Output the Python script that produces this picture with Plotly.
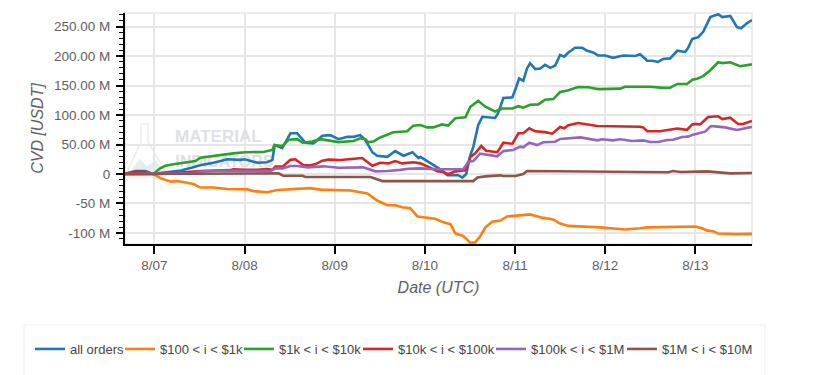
import pandas as pd
import plotly.graph_objects as go

BASE = pd.Timestamp("2021-08-07")

series_names = ["all orders", "$100 < i < $1k", "$1k < i < $10k", "$10k < i < $100k", "$100k < i < $1M", "$1M < i < $10M"]
series_colors = ["#1f77b4", "#ff7f0e", "#2ca02c", "#d62728", "#9467bd", "#8c564b"]

# hours since 8/07 00:00 UTC, and CVD in millions of USDT
all_h = [-8,-5,-2.4,-0.5,3,7,9.6,12.2,15.7,19.4,22.9,24,27.4,30,31.4,32,34,36.2,38,40.2,42.3,44.7,46.8,49,51.4,53,54.8,56.1,58,59.3,62,64.1,66.3,68.7,70.3,70.8,72.6,74.2,76.1,78,80.9,82,83,84.1,84.9,86.2,87.3,90.7,91.5,92.9,95.3,96,97.1,98.2,99.2,100,101.4,102.7,104,105.4,106.7,108,109.1,110.2,112,113.9,115.2,116.8,118.1,120,122.1,124.8,128,129.3,131.2,132.5,134.1,135.4,137.3,139.2,141.3,142.1,143.2,144.8,146.1,148,150.1,151.2,153.3,155.1,156.2,157.8,159.1]
all_v = [0,5,5,0,3,6,10,15,19,25,24,25,19,20,24,49,44,69,69,53,52,65,66,59,63,63,66,58,37,31,29,39,31,37,27,29,22,15,8,-2,-2,-6,0,32,46,83,97,95,103,129,130,142,162,158,179,188,178,179,185,180,184,202,199,206,214,214,209,206,201,201,197,201,200,203,192,192,190,195,196,209,207,214,229,232,241,266,271,266,268,249,247,256,261]

s1_h = [-8,-0.3,1.6,4.3,6.1,10.4,12.2,15.7,19.4,24.7,26.3,30,32.7,36.2,41.5,44.2,52.2,56.7,58,59.3,62,64.1,66,68.1,70,72.1,74.8,76.9,78.8,80.1,82.2,84.1,85.4,86.7,88.1,89.9,92.1,93.9,96.6,100,103.2,106.2,108,110.2,118.7,125.3,129.3,131.2,144,145.8,147.2,148.8,150.1,155.1,159.1]
s1_v = [0,0,-7,-13,-12,-17,-23,-23,-25.5,-26,-29,-31,-27,-25.5,-24,-26.5,-28,-33,-38.5,-45,-53,-53,-56.5,-58,-72,-74,-76,-82,-85,-100.6,-105,-116.5,-116,-106,-90.5,-81,-79,-72,-71,-68.5,-74,-77,-84,-88,-90.5,-94,-92,-90.5,-89,-92,-96,-97,-101,-102,-101.5]

s2_h = [-8,-0.3,1.6,2.9,5.1,10.9,12.2,16.8,21,24.2,29,31.4,31.9,34.1,35.7,38.1,39.4,42,44.2,49,53,54.8,56.1,56.9,58.3,60.1,63.6,67.3,68.9,70.8,72.6,74.2,76.6,78.2,80.1,82.8,84.1,86.2,88.1,90.7,92.6,95.3,96.9,98.2,100,102.2,104,106.2,108,110.2,112.8,115.5,118.1,124,125.3,132,135.4,137.3,139.2,141.8,143.2,144.5,146.1,148,150.1,151.2,153.3,155.9,159.1]
s2_v = [0,0,10,14,16.5,22,27.6,32,35,37,37.3,40.7,49,47.5,58,59,53,55,59,54,56,60.5,59,54,55,62,70.7,72.4,82,83,79,79,84,82,94.5,96,114,124,114,106,111,111,115,112.5,117.5,118,126,127,139,142,147.5,147,144,144.7,148,148,146,146.4,152.7,152.7,160,161.6,166,176,189.5,188,189.5,182.7,186]

s3_h = [-8,-5,-2.4,-0.3,4.3,9.6,12.2,20.2,21,24,27.4,30,31.4,32.2,34.1,36.2,37.5,39.6,41.5,42.8,44.7,46.3,49.5,55.3,58,60.1,62.3,64.1,66,68.9,70.8,73.4,75.3,76.9,78.2,80.1,82.8,84.1,85.4,87,88.3,91.3,92.9,95.3,96.9,98.2,99.8,101.4,104,105.9,108,109.1,110.2,112.8,117.9,129.3,130.1,131.2,134.6,139.2,141.8,143.2,144,145.3,147.4,150.1,151.2,153.3,155.4,156.7,159.1]
s3_v = [0,4,3.5,0,1,3,5,6.5,8,7,7,8.5,7,12.5,12.5,24,25,15,14.7,16.4,22.6,24.3,23.7,27,14,19,18,22,18,20,18,10.7,4.5,3.4,-0.5,4.5,6.3,29,35,47.5,39.5,37,53,51.4,69,69,77.5,72.4,71,68.4,79.7,77.5,82.6,86.5,81.4,80,79,72.4,72.4,77,75,84,85,84,96.7,97.8,93,95.5,84.8,84.8,90]

s4_h = [-8,9.6,12.2,16.8,23.7,30.9,32.2,34.1,36.2,38.1,40.7,45,49,55.6,58.8,62,65.5,67.6,70.8,75.3,82.2,83.6,84.9,86.7,91.3,92.9,95.5,97.4,98.2,99.8,101.9,103.5,106.7,108,113.4,117.9,119.2,122.1,124,127.2,130.1,132,134.1,136.5,138.1,140.5,142.1,143.4,146.6,148.2,149.3,151.9,155.1,157.3,159.1]
s4_v = [0,1,4,5.6,5,5,9.6,9.6,13.5,13.5,11.3,13,10.7,11.3,4.5,5,7,9,9.6,8,8,21,22,34.5,30,39,40.7,46.3,45.2,53,49,53.8,54.8,59.4,62,57,59,57,59,56,57,54.3,54.3,57.7,58,62.7,63.3,66.7,71.8,81.4,80.8,79,74.6,77,80]

s5_h = [-8,31.7,33,34.3,39.4,40.2,57.5,60.7,84.9,86,88.1,92.1,92.9,96.1,98.2,99.2,118.1,131.2,136.8,138.1,140,147.2,153.3,159.1]
s5_v = [0,1,1,-3,-3,-5,-5,-12,-12,-6,-4,-2.3,-3.4,-3.4,0,5,4.5,3,3,5,3.4,4.5,1,1.7]

series_hours = [all_h, s1_h, s2_h, s3_h, s4_h, s5_h]
series_values = [all_v, s1_v, s2_v, s3_v, s4_v, s5_v]
legend_widths = [45, 74, 74, 88, 86, 100]

y_ticks = [-100, -50, 0, 50, 100, 150, 200, 250]
y_labels = ["-100 M", "-50 M", "0", "50.00 M", "100.00 M", "150.00 M", "200.00 M", "250.00 M"]


def to_dates(hours):
    return BASE + pd.to_timedelta(hours, unit="h")


# the page body adds an 8px margin around the figure
PAGE = 8
W, H = 832, 367
# plot area in page pixels
L, R, T, B = 125, 752, 13, 244


def px(x):
    return (x - L) / (R - L)


def py(y):
    return (B - y) / (B - T)


def path(points, close=True):
    s = "M " + " L ".join(f"{px(x):.4f},{py(y):.4f}" for x, y in points)
    return s + (" Z" if close else "")


fig = go.Figure()

# watermark text, drawn first so the lines sit on top of it
fig.add_trace(go.Scatter(
    x=to_dates([17.0, 18.6]), y=[61, 18], mode="text", text=["MATERIAL", "INDICATORS"],
    textposition="middle center", showlegend=False, hoverinfo="skip",
    textfont=dict(family="Liberation Sans", size=[17, 16], color="#dde0e4", weight="bold"),
))

for name, color, h, v, lw in zip(series_names, series_colors, series_hours, series_values, legend_widths):
    fig.add_trace(go.Scatter(x=to_dates(h), y=v, mode="lines", name=name, legendwidth=lw,
                             line=dict(color=color, width=2.6, shape="linear")))

shapes = [
    # frame of the plot area (top and right sides show)
    dict(type="rect", xref="paper", yref="paper", x0=0, x1=1, y0=0, y1=1,
         line=dict(color="#ececec", width=2), layer="below"),
    # legend box
    dict(type="rect", xref="paper", yref="paper", x0=px(24), x1=px(765), y0=py(325), y1=py(385),
         line=dict(color="#f0f0f0", width=1), fillcolor="white", layer="below"),
    # watermark flask
    dict(type="path", xref="paper", yref="paper", layer="below", line=dict(color="#ececec", width=1.5),
         path=path([(141, 124), (148, 124), (148, 142), (167, 174), (164, 177), (128, 177), (126, 174), (141, 142)])),
    dict(type="path", xref="paper", yref="paper", layer="below", line=dict(width=0), fillcolor="#e4eeee",
         path=path([(128, 174), (140, 159), (147, 166), (156, 160), (165, 174), (163, 176), (130, 176)])),
]

fig.update_layout(
    width=W, height=H, autosize=False,
    margin=dict(l=L - PAGE, r=W - (R - PAGE), t=T - PAGE, b=H - (B - PAGE)),
    paper_bgcolor="white", plot_bgcolor="white",
    font=dict(family="Liberation Sans, Arial, sans-serif", color="#555555"),
    shapes=shapes,
    legend=dict(orientation="h", x=px(30), y=py(334), xanchor="left", yanchor="top",
                font=dict(size=13, color="#444444"), bgcolor="rgba(0,0,0,0)",
                itemwidth=30, traceorder="normal"),
    xaxis=dict(
        type="date",
        range=[to_dates([-7.85])[0], to_dates([159.1])[0]],
        tick0=BASE, dtick=86400000, tickformat="%-m/%d",
        showgrid=True, gridcolor="#e6e6e6", gridwidth=1.5,
        showline=True, linecolor="black", linewidth=2,
        ticks="outside", ticklen=8, tickwidth=1.5, tickcolor="black",
        tickfont=dict(size=13.5, color="#5f5f5f"),
        title=dict(text="<i>Date (UTC)</i>", font=dict(size=16, color="#5f5f5f"), standoff=10),
        zeroline=False,
    ),
    yaxis=dict(
        range=[-118.7, 273],
        tickmode="array", tickvals=y_ticks, ticktext=y_labels,
        showgrid=True, gridcolor="#e6e6e6", gridwidth=1.5,
        showline=True, linecolor="black", linewidth=2,
        ticks="outside", ticklen=7, tickwidth=1.5, tickcolor="black",
        tickfont=dict(size=13.5, color="#5f5f5f"), ticklabelstandoff=3,
        minor=dict(dtick=10, tick0=0, ticks="outside", ticklen=4, tickwidth=1, tickcolor="black", showgrid=False),
        title=dict(text="<i>CVD [USDT]</i>", font=dict(size=16, color="#5f5f5f"), standoff=6),
        zeroline=False,
    ),
)

fig.write_html("out.html")
